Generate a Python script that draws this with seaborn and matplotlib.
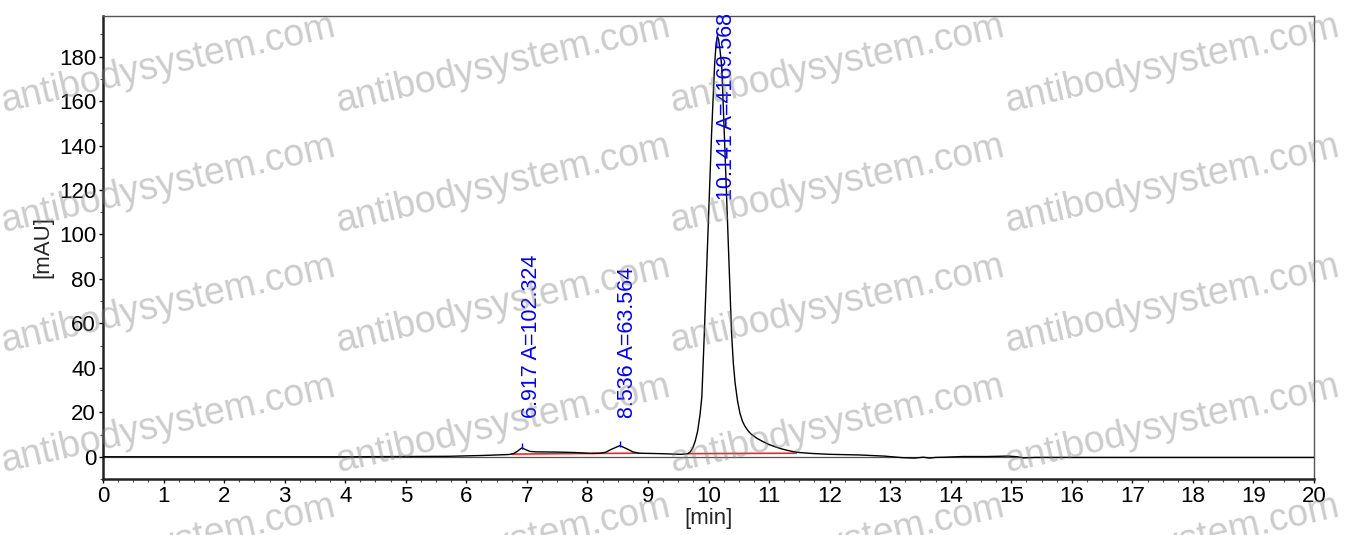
import numpy as np
import pandas as pd
import matplotlib
matplotlib.use("Agg")
import matplotlib.pyplot as plt
from matplotlib.ticker import MultipleLocator, AutoMinorLocator
import seaborn as sns

# Chromatogram trace (time in min, signal in mAU)
time_min = [0.0, 4.0, 5.0, 5.7, 6.3, 6.7, 6.78, 6.85, 6.917, 6.98, 7.05, 7.15,
            7.5, 7.8, 8.05, 8.2, 8.3, 8.4, 8.536, 8.65, 8.75, 8.85, 9.2, 9.55,
            9.66, 9.7, 9.74, 9.78, 9.82, 9.86, 9.89, 9.93, 9.97, 10.01, 10.05,
            10.1, 10.125, 10.145, 10.165, 10.19, 10.22, 10.26, 10.30, 10.34,
            10.38, 10.41, 10.44, 10.48, 10.52, 10.56, 10.6, 10.65, 10.7, 10.8,
            10.9, 11.0, 11.1, 11.2, 11.3, 11.4, 11.5, 11.7, 12.0, 12.5,
            12.9, 13.2, 13.4, 13.55, 13.65, 13.75, 13.9, 14.2, 14.6, 14.95,
            15.1, 15.2, 15.4, 16.0, 20.0]
signal_mau = [0.0, 0.0, 0.1, 0.2, 0.6, 1.0, 1.4, 2.6, 4.0, 3.2, 2.4, 2.2,
              2.1, 1.9, 1.5, 1.6, 2.0, 3.4, 5.0, 3.6, 2.2, 1.6, 1.4, 1.1,
              1.4, 2.2, 4.0, 7.0, 11.5, 19.0, 27.0, 55.0, 85.0, 115.0, 145.0,
              176.0, 186.0, 189.0, 188.0, 183.0, 175.0, 146.0, 116.0, 86.0,
              56.0, 42.0, 33.0, 25.0, 19.5, 16.0, 13.8, 11.8, 10.3, 8.3,
              6.8, 5.5, 4.5, 3.6, 2.9, 2.3, 1.9, 1.5, 1.1, 0.8,
              0.3, -0.4, -0.6, -0.2, -0.6, -0.3, -0.2, 0.1, 0.1, 0.3,
              0.0, -0.5, -0.3, -0.3, -0.3]

# Integration baselines (red)
base_t = [[6.75, 8.1], [8.1, 8.85], [9.66, 11.45]]
base_v = [[1.2, 1.5], [1.5, 1.6], [1.4, 1.6]]

# Peak annotations
peak_rt = [6.917, 8.536, 10.141]
peak_top = [4.0, 5.0, 189.0]
peak_text = ["6.917 A=102.324", "8.536 A=63.564", "10.141 A=4169.568"]

df = pd.DataFrame({"time": time_min, "signal": signal_mau})

sns.set_theme(style="ticks")
plt.rcParams["font.family"] = ["Liberation Sans", "DejaVu Sans"]

fig = plt.figure(figsize=(13.59, 5.35), dpi=100)
ax = fig.add_axes([0.0758, 0.1047, 0.8911, 0.8654])

ax.axhline(0, color="#555555", lw=0.9, zorder=1)
for bt, bv in zip(base_t, base_v):
    ax.plot(bt, bv, color="#ff2020", lw=1.2, zorder=2)
sns.lineplot(data=df, x="time", y="signal", ax=ax, color="black", lw=1.0,
             zorder=3)

# label positions
lab_x = [7.07, 8.67, 10.29]
lab_y = [17.6, 17.6, 115.7]
for rt, top, txt, lx, ly in zip(peak_rt, peak_top, peak_text, lab_x, lab_y):
    ax.vlines(rt, top - 0.5, top + 2.2, color="blue", lw=1.0, zorder=4)
    ax.text(lx, ly, txt, rotation=90, ha="center", va="bottom",
            color="blue", fontsize=15.5, zorder=5)

ax.set_xlim(0, 20)
ax.set_ylim(-10, 198.3)
ax.xaxis.set_major_locator(MultipleLocator(1))
ax.xaxis.set_minor_locator(AutoMinorLocator(4))
ax.yaxis.set_major_locator(MultipleLocator(20))
ax.yaxis.set_minor_locator(AutoMinorLocator(2))
ax.set_yticks(np.arange(0, 181, 20))
ax.tick_params(axis="both", which="major", direction="out", length=3,
               width=1.0, labelsize=16, colors="black", pad=2)
ax.tick_params(axis="both", which="minor", direction="out", length=2,
               width=0.8, color="#555555")

ax.set_xlabel("[min]", fontsize=16, labelpad=1)
ax.set_ylabel("[mAU]", fontsize=16, labelpad=4)

for side in ["left", "bottom"]:
    ax.spines[side].set_linewidth(1.8)
    ax.spines[side].set_color("#222222")
for side in ["top", "right"]:
    ax.spines[side].set_linewidth(1.0)
    ax.spines[side].set_color("#555555")

# Watermark grid
W, H = 1359, 535
wm_x = [4, 339, 673, 1008]
wm_y = [112, 232, 352, 472, 592]
for x0 in wm_x:
    for y0 in wm_y:
        fig.text(x0 / W, 1 - y0 / H, "antibodysystem.com", fontsize=27,
                 rotation=12.9, rotation_mode="anchor", ha="left",
                 va="baseline", color="#808080", alpha=0.4, zorder=10)

fig.savefig("out.png", dpi=100)
